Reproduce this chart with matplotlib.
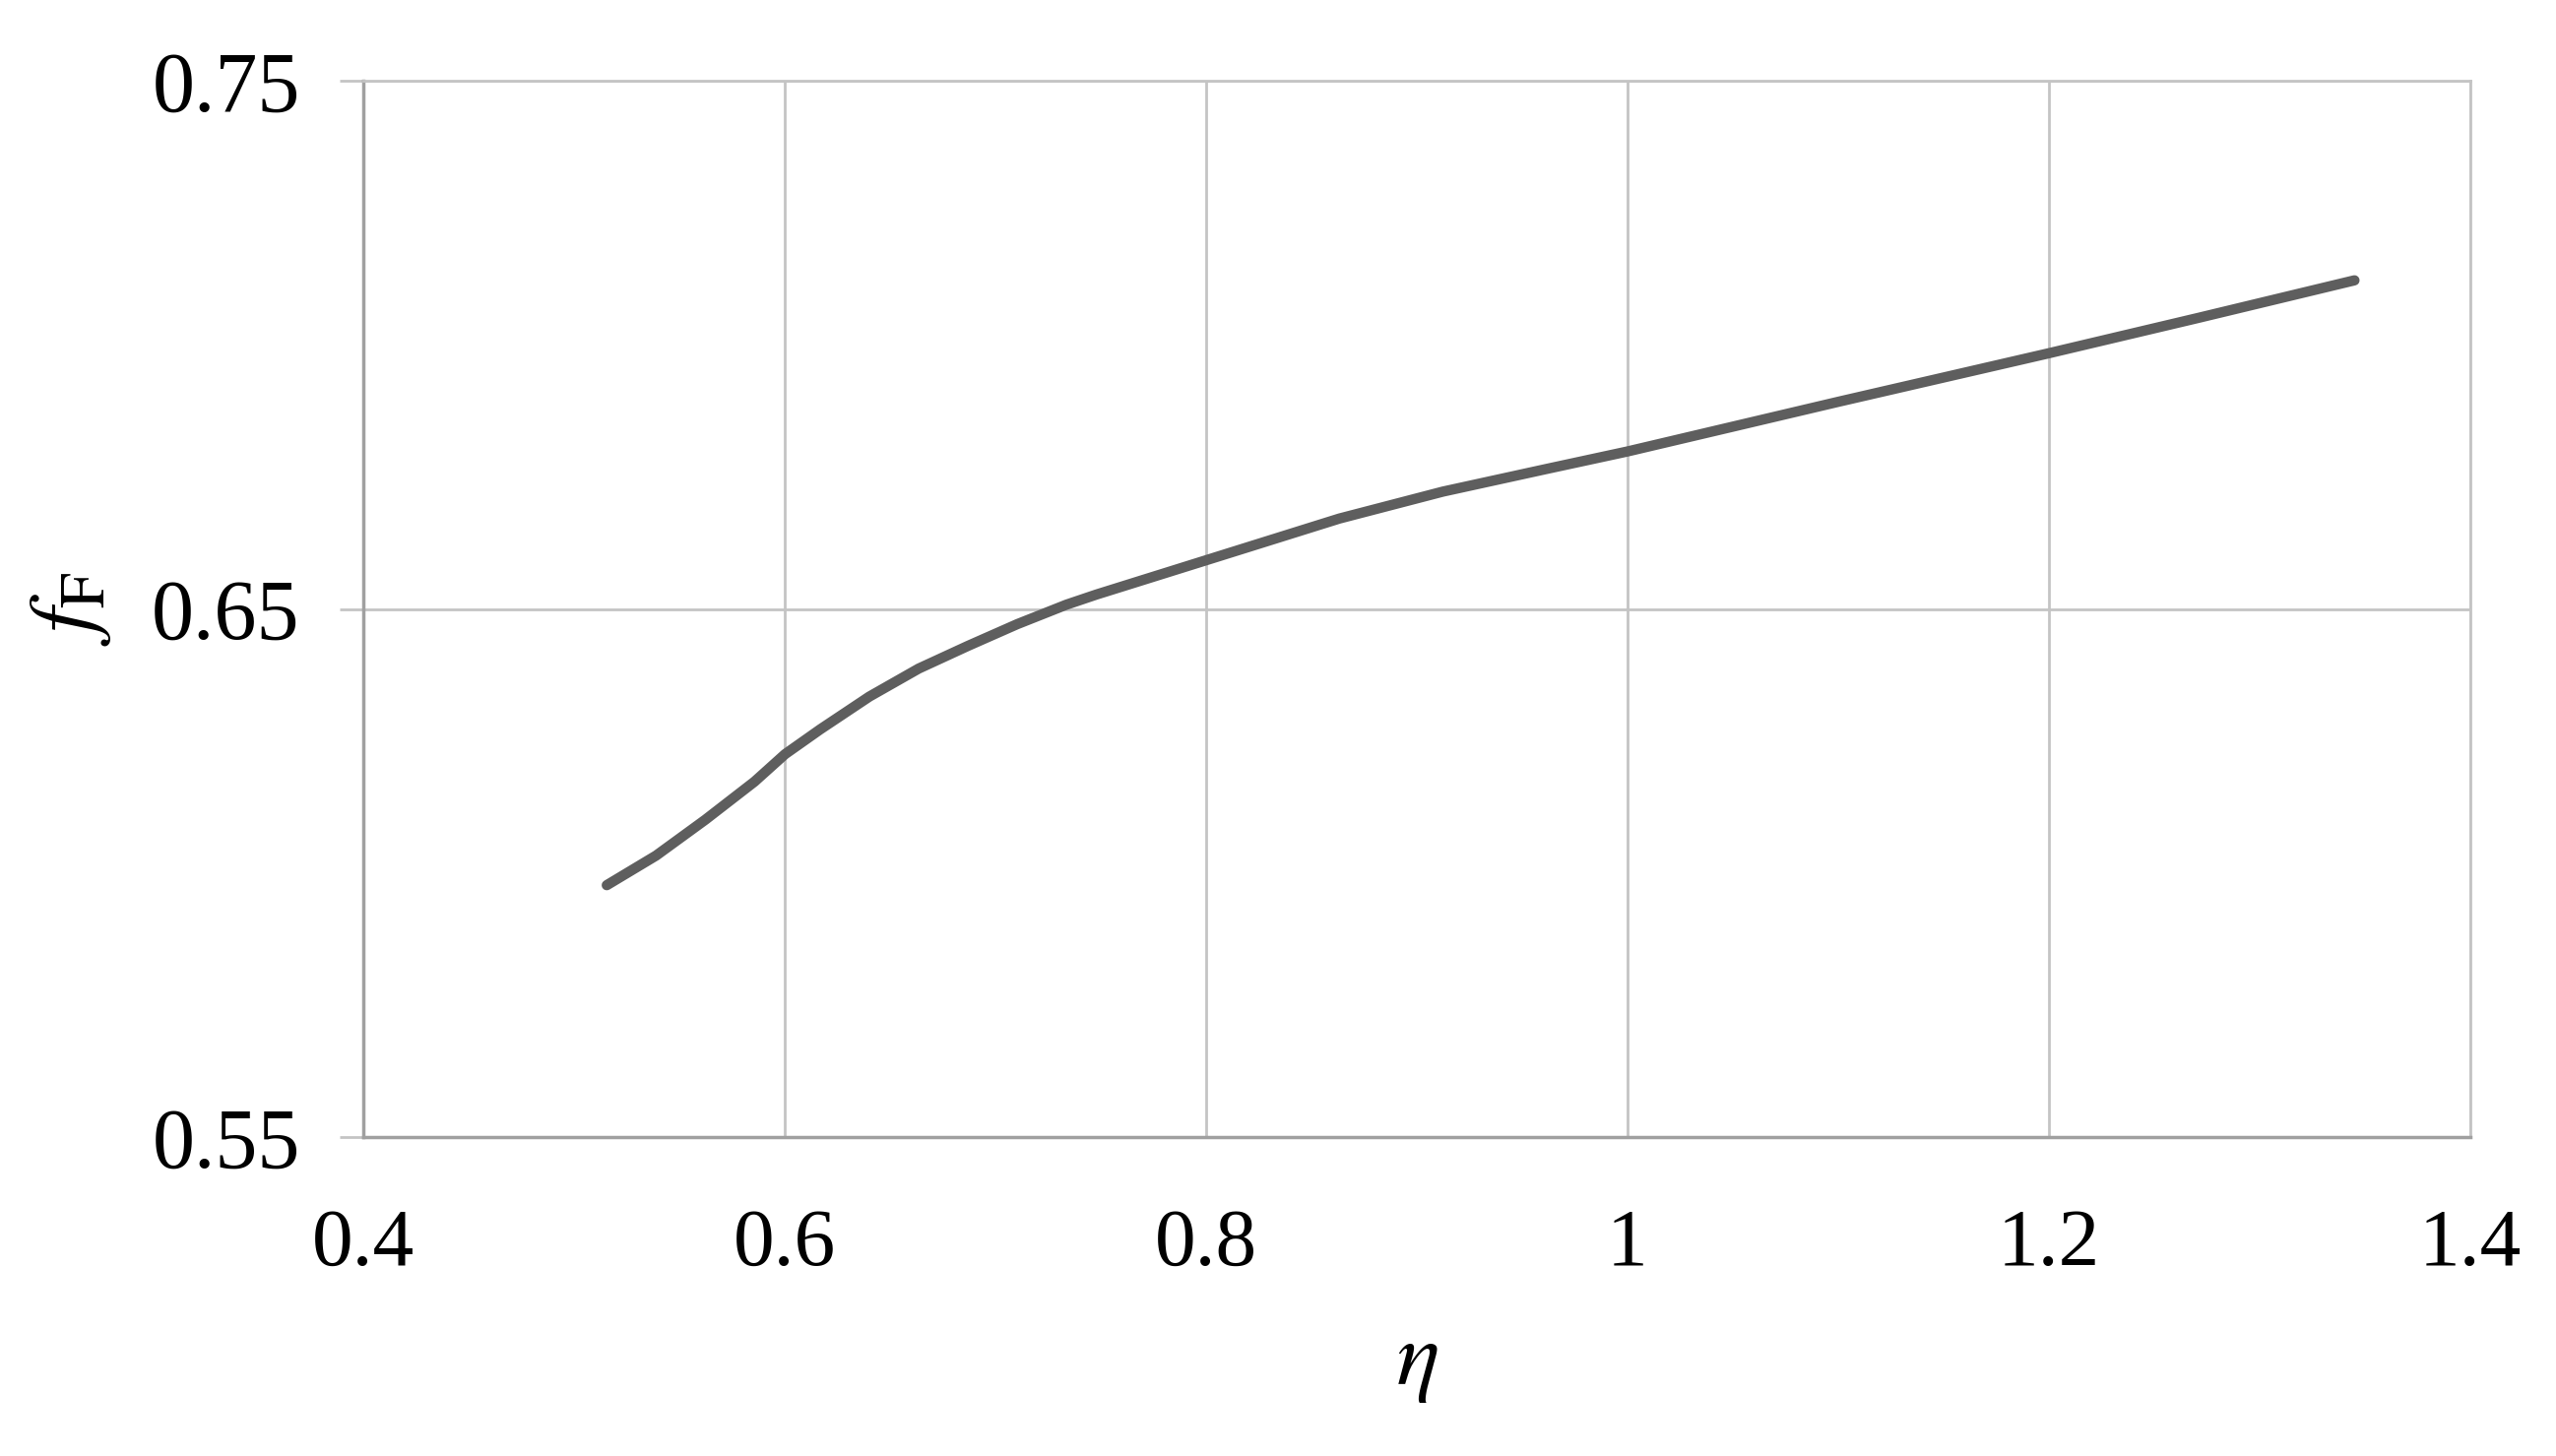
import matplotlib
matplotlib.use("Agg")
import matplotlib.pyplot as plt

eta = [0.5157, 0.5391, 0.5625, 0.5858, 0.6003, 0.617, 0.6403, 0.6637, 0.6871,
       0.7104, 0.7338, 0.7479, 0.800, 0.8633, 0.9124, 0.9617, 1.0, 1.1, 1.2,
       1.271, 1.345]
f_F = [0.5977, 0.6033, 0.6101, 0.6173, 0.6225, 0.6272, 0.6334, 0.6387, 0.6430,
       0.6471, 0.6508, 0.6527, 0.6592, 0.6671, 0.6722, 0.6765, 0.6798, 0.6892, 0.6984,
       0.7051, 0.7122]

x_ticks = [0.4, 0.6, 0.8, 1.0, 1.2, 1.4]
x_labels = ["0.4", "0.6", "0.8", "1", "1.2", "1.4"]
y_ticks = [0.55, 0.65, 0.75]
y_labels = ["0.55", "0.65", "0.75"]

plt.rcParams['font.family'] = ['Liberation Serif', 'DejaVu Serif']
plt.rcParams['mathtext.fontset'] = 'stix'

fig = plt.figure(figsize=(25.96, 14.79), dpi=100)
ax = fig.add_axes([0.142, 0.219, 0.9665 - 0.142, 0.9446 - 0.219])

grid_c = '#c4c4c4'
axis_c = '#a0a0a0'

ax.plot(eta, f_F, color='#5e5e5e', lw=7.5, solid_capstyle='round',
        solid_joinstyle='round', zorder=3)

ax.set_xlim(0.4, 1.4)
ax.set_ylim(0.55, 0.75)
ax.set_xticks(x_ticks)
ax.set_xticklabels(x_labels)
ax.set_yticks(y_ticks)
ax.set_yticklabels(y_labels)

ax.grid(True, color=grid_c, lw=2.0, zorder=0)
ax.set_axisbelow(True)
for s in ['top', 'right']:
    ax.spines[s].set_color(grid_c)
    ax.spines[s].set_linewidth(2.0)
for s in ['left', 'bottom']:
    ax.spines[s].set_color(axis_c)
    ax.spines[s].set_linewidth(2.5)

ax.tick_params(axis='y', direction='out', length=17, width=2.0, color=grid_c,
               labelsize=62, pad=29)
ax.tick_params(axis='x', length=0, labelsize=60, pad=52)

ax.set_xlabel(r'$\eta$', fontsize=66, labelpad=30)
ax.set_ylabel(r'$f_{\mathrm{F}}$', fontsize=66, labelpad=28)

fig.savefig('out.png', dpi=100, facecolor='white')
